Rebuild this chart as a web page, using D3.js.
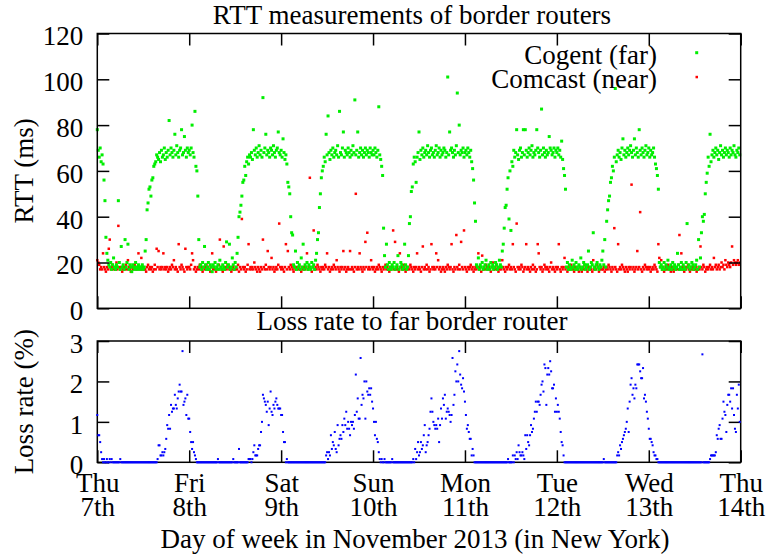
<!DOCTYPE html>
<html>
<head>
<meta charset="utf-8">
<script src="https://cdn.jsdelivr.net/npm/d3@7"></script>
<style>
body { margin: 0; background: #fff; }
svg text { font-family: "Liberation Serif", "Times New Roman", serif; }
</style>
</head>
<body>
<div id="chart"></div>
<script>
// x axis: hours since Thu 7th 00:00, one tick per day
var dayTicks = [0, 24, 48, 72, 96, 120, 144, 168];
var dayNames = ["Thu", "Fri", "Sat", "Sun", "Mon", "Tue", "Wed", "Thu"];
var dayDates = ["7th", "8th", "9th", "10th", "11th", "12th", "13th", "14th"];
var rttTicks = [0, 20, 40, 60, 80, 100, 120];
var lossTicks = [0, 1, 2, 3];
var stepHours = 0.25; // one sample every 15 minutes

// RTT to the far (Cogent) border router, ms
var cogentRtt = [
  78,69,66,70,64,67,63, 56,47,31,24,
  21,19,18,20,17,19,22,18,17,19,18,47,20,17,27,18,19,17,30,18,20,28,17,19,18,16,19,18,17,20,18,17,19,18,17,18,19,17,18,
  25,30,43,46,52,53,49,56,57,62,63,64,67,66,
  65,68,64,69,66,67,70,65,68,66,69,82,67,70,68,66,69,76,67,71,68,66,69,70,78,67,68,75,69,66,70,68,
  69,67,70,80,68,66,86,62,60, 49,30,
  18,19,17,20,18,27,19,17,18,20,17,19,18,16,19,18,20,17,18,19,17,21,18,17,19,18,17,20,29,18,19,28,17,18,22,19,17,20,18,
  24,31,40,42,45,49,55,56,62,58,64,66,63,67,
  66,68,65,78,69,67,70,66,68,71,67,69,66,92,68,70,76,67,69,68,66,70,69,67,71,68,66,69,70,77,68,67,
  69,66,74,68,65,67,63, 55,53,50,40,33,
  32,19,18,25,17,20,18,19,17,22,18,28,17,19,18,20,17,19,18,17,20,18,19,17,21,
  24,30,33,44,50,57,60,62,66,
  64,76,67,84,68,65,69,67,70,66,68,69,67,71,66,86,68,67,70,77,66,69,68,67,70,68,66,69,67,71,68,91,67,69,77,66,68,70,67,69,66,68,70,67,69,68,66,70,68,67,
  69,67,70,68,66,69,88,67,65, 62,58,35,23,
  18,28,19,17,20,18,17,19,18,20,17,18,19,23,17,18,20,19,17,18,28,19,17,18,23,
  37,40,51,53,63,66,64,55,
  66,68,77,65,69,67,70,66,68,69,67,71,68,66,69,70,67,68,66,69,71,67,68,70,66,69,67,68,70,69,66,68,101,67,77,69,70,68,66,69,67,71,94,68,80,67,69,68,70,66,
  68,69,67,70,68,66,69,64, 61,56,46,38,
  19,18,22,17,19,18,20,17,18,19,21,17,18,19,17,20,18,19,17,18,20,19,17,18,21,19,18,
  25,28,35,44,45,52,57,39,60,34,64,62,69,
  66,68,78,67,65,69,70,66,68,78,67,78,69,66,68,70,67,69,71,66,68,67,69,78,70,68,66,69,87,67,70,68,66,69,67,68,75,70,69,67,68,70,66,69,
  68,70,67,69,66,73,65, 61,58,52,
  18,20,17,19,18,17,21,18,19,17,20,18,17,19,18,22,17,18,20,19,17,18,19,25,17,18,20,19,33,18,17,19,20,18,17,19,18,21,25,19,30,18,
  38,43,47,49,55,57,62,60,66,
  96,64,67,69,66,68,65,70,74,67,69,66,68,70,67,69,71,68,66,69,74,67,70,68,66,78,69,67,70,68,66,69,71,67,68,70,66,69,67,68,70,66,63,
  61,58,52,
  20,18,19,17,18,20,17,19,18,21,17,18,19,17,20,18,19,17,18,24,19,17,18,20,17,19,18,17,20,37,18,19,17,18,20,19,17,18,19,21,17,30,18,22,
  33,40,38,41,50,55,59,66,62,76,
  64,67,69,66,68,70,67,69,65,68,71,67,69,66,68,70,67,69,68,66,70,67,69,68,71,67,66,69,68,70,67
];

// RTT to the near (Comcast) border router, ms
var comcastRtt = [
  21,20,19,17,18,17,24,18,17,16,18,17,26,30,17,18,19,17,18,17,20,17,36,18,
  17,18,16,17,18,17,19,17,21,18,17,16,18,17,18,19,17,18,17,24,18,17,22,17,
  18,17,17,16,18,19,17,18,17,18,16,17,19,17,26,18,25,17,18,17,18,24,17,18,
  17,18,16,17,18,17,19,18,21,17,18,17,16,28,18,17,19,18,17,16,26,18,17,18,
  18,17,19,24,21,17,18,16,17,18,17,19,18,17,16,18,17,18,19,17,18,17,16,18,
  24,17,18,17,16,18,17,19,30,18,17,16,27,17,18,17,19,18,17,18,16,17,18,17,
  17,18,17,19,16,18,17,39,18,17,18,16,17,19,28,17,18,17,18,17,20,18,17,16,
  18,17,16,18,17,30,18,17,19,17,25,18,17,18,22,17,18,16,17,18,17,19,37,18,
  17,18,17,16,18,28,17,25,18,17,19,18,17,16,18,17,18,20,17,18,17,16,18,17,
  18,17,18,24,17,18,57,17,16,18,34,17,18,17,19,18,17,16,18,17,18,17,19,18,
  24,17,18,16,17,18,17,19,18,17,21,18,17,16,18,17,18,25,17,18,16,17,18,17,
  25,17,18,17,16,18,50,17,18,17,24,18,17,16,18,17,29,18,33,17,18,17,21,18,
  17,18,16,17,18,17,19,18,17,16,18,17,18,19,17,18,17,16,18,17,18,34,17,29,
  17,18,17,16,24,18,17,18,19,17,16,18,17,18,17,19,18,17,16,18,17,18,24,17,
  18,17,16,18,27,17,18,17,19,17,18,16,17,28,18,17,18,17,24,18,21,17,18,16,
  17,18,17,16,18,17,19,18,17,18,28,17,16,18,17,32,18,17,19,17,29,18,17,34,
  18,17,16,18,17,18,19,17,18,16,17,18,17,18,24,17,18,16,23,17,18,17,19,18,
  17,18,17,16,18,20,17,18,17,19,18,16,17,18,17,21,18,17,16,18,17,18,19,17,
  18,17,28,18,17,16,37,18,17,18,17,19,18,16,17,18,28,17,18,17,16,18,17,19,
  17,18,16,17,28,24,18,17,18,16,17,19,18,17,18,17,16,18,20,17,18,17,16,18,
  17,18,28,17,16,18,17,18,22,17,18,16,17,18,17,19,18,17,16,18,17,18,17,16,
  18,17,16,18,17,19,18,17,16,18,17,18,17,16,21,17,18,17,19,18,16,17,18,17,
  17,18,16,17,18,17,19,18,17,16,18,17,35,18,17,16,28,17,18,17,19,18,17,16,
  18,17,16,18,17,18,54,17,18,16,17,18,25,17,18,42,17,16,18,17,19,18,17,18,
  17,18,16,17,18,17,19,18,17,16,28,22,18,21,17,18,16,17,18,17,19,18,17,16,
  18,17,16,18,17,18,17,19,32,17,24,18,17,16,18,17,18,19,17,16,18,17,18,17,
  17,18,16,17,18,17,27,18,17,19,18,16,17,18,17,18,19,17,18,17,22,18,19,17,
  18,19,17,18,20,18,19,17,21,19,18,20,19,18,20,27,19,21,20,19,20,21,19,20
];

// loss rate to the far border router, %
var lossRate = [
  1.17,.67,.67,.5,.25,.08,0,.08,0,0,.08,0,0,.08,0,.08,0,0,0,0,0,0,0,0,
  .08,0,0,0,0,0,0,0,0,0,0,0,0,0,0,0,0,0,0,0,0,0,0,0,
  0,0,0,0,0,0,0,0,0,0,0,0,0,0,0,.08,.42,.42,.17,.17,.25,.17,.25,.33,
  .58,.92,.83,1.17,.83,1.42,1.25,1.33,1.33,1.67,1.42,1.33,1.58,1.75,1.92,1.75,1.75,2.75,1.42,1.5,1.58,1.17,1.67,1.08,
  1.08,.75,.5,.33,.5,.25,.17,.08,0,0,0,0,0,0,0,0,0,0,0,0,0,0,0,0,
  0,0,0,0,0,0,.08,0,0,0,0,0,0,0,0,0,0,0,0,0,0,0,.08,0,
  0,0,0,0,.33,0,0,0,0,0,0,0,0,0,.08,.08,.08,0,.08,.25,.42,.17,.17,.17,
  .33,.42,.42,.75,1,1.67,1.58,1.5,1.42,1.25,1.5,.92,1.33,1.75,1.25,1.17,1.42,1.33,1.5,1.58,1.42,1.33,1.33,1.33,
  1.17,1.17,.75,.5,.5,0,.08,0,0,0,0,0,0,0,0,0,0,0,0,0,0,0,0,0,
  0,0,0,0,0,0,0,0,0,0,0,0,0,0,0,0,0,0,0,0,0,0,0,.17,
  .25,.08,.25,.17,.67,.33,.5,.42,.75,.33,.25,.92,.42,.58,.67,.58,.92,.75,1.08,.92,1.25,.83,1,.83,
  .67,1,.92,1,.83,1.17,2.17,1.25,1.58,1.08,1.08,2.58,1.42,1.67,1.58,2,1.08,2,1.75,1.67,1.83,1.67,1.83,1.5,
  1.33,1,.67,1,.58,.5,.25,.08,0,.08,0,0,.08,0,0,0,0,0,0,0,.08,0,0,0,
  0,0,0,0,0,0,0,0,0,0,0,0,0,0,0,0,0,0,.08,0,.33,.08,.25,.5,
  .17,.25,.5,.33,.42,.67,.92,.25,.42,.5,.67,.83,1.25,1.58,1.25,1,.92,.83,.92,.83,1.08,.5,.92,1.33,
  1.08,1.58,1.42,1.67,1.08,1.25,1.33,1.25,1.17,1,1.17,2.58,1.42,1.67,2.25,2,2.42,2,2.75,2.17,1.92,1.83,2.08,1.75,
  1.5,1.17,.83,.92,.75,.58,.58,.17,.33,.17,0,0,0,0,0,0,0,0,0,0,0,0,0,0,
  0,0,0,0,0,0,0,0,0,0,0,0,0,0,0,0,0,0,0,0,0,.08,0,0,
  0,0,.17,0,.17,.08,.25,.08,.42,.25,.17,.17,.25,.17,.08,.67,.33,.67,.5,.42,.67,.92,.75,.83,
  1.08,1.25,1.5,1.25,1.5,1.5,1.42,1.67,1.92,2,1.75,2.42,2.33,1.42,2.17,2.33,2.17,2.5,2.25,1.83,1.83,1.92,1.25,1.58,
  1.25,1.42,1.25,1.08,.75,.5,.42,.17,0,0,0,0,0,0,0,0,0,0,0,0,0,0,0,0,
  0,0,0,0,0,0,0,0,0,0,0,0,0,0,0,0,0,0,0,0,0,0,0,0,
  0,.08,0,0,0,0,0,0,0,0,0,0,0,0,0,.17,.25,.17,.42,.33,.5,.58,.67,.75,
  .83,1,1.33,.75,1.5,1.92,2.08,1.67,1.83,1.58,1.92,1.83,2.42,2.42,2.42,2.25,2.08,2.08,2.33,1.58,1.67,1.5,1.25,1.08,
  .83,.58,.58,.5,.42,.25,.17,.17,.08,.08,0,0,0,0,0,0,0,0,0,0,0,0,0,0,
  0,0,0,0,0,0,0,0,0,0,0,0,0,0,0,0,0,0,0,0,0,0,0,0,
  0,0,0,0,0,0,0,0,2.67,0,0,0,0,0,0,0,.08,.17,.17,.17,.17,.17,.25,.67,
  .58,.83,.92,.58,.58,1.08,1.5,1.25,1.17,.75,1.42,1.67,1.67,1.5,1.83,1.33,1.83,1.17,.83,.75,1.67,1.33,1.92,1
];

var svg = d3.select("#chart").append("svg")
    .attr("width", 766)
    .attr("height", 557),
    left = 97.3,
    right = 740.7,
    rttTop = 33.5,
    rttBottom = 308.3,
    lossTop = 341,
    lossBottom = 462.3,
    fontSize = 27,
    tickLen = 12;

var x = d3.scaleLinear().domain([0, 168]).range([left, right]);
var yRtt = d3.scaleLinear().domain([0, 120]).range([rttBottom, rttTop]);
var yLoss = d3.scaleLinear().domain([0, 3]).range([lossBottom, lossTop]);

function styleAxis(g) {
    g.attr("font-family", "Liberation Serif, serif")
        .attr("font-size", fontSize);
    g.select(".domain").remove();
    g.selectAll(".tick line").attr("stroke", "#000").attr("stroke-width", 1.5);
    g.selectAll(".tick text").attr("fill", "#000");
}

function drawFrame(y, ticks, top, bottom) {
    svg.append("rect")
        .attr("x", left)
        .attr("y", top)
        .attr("width", right - left)
        .attr("height", bottom - top)
        .attr("fill", "none")
        .attr("stroke", "#000")
        .attr("stroke-width", 1.5);

    svg.append("g")
        .attr("transform", "translate(0," + top + ")")
        .call(d3.axisTop(x).tickValues(dayTicks).tickSize(-tickLen).tickFormat(""))
        .call(styleAxis);

    svg.append("g")
        .attr("transform", "translate(" + left + ",0)")
        .call(d3.axisLeft(y).tickValues(ticks).tickSize(-tickLen).tickPadding(14).tickFormat(d3.format("d")))
        .call(styleAxis)
        .selectAll(".tick text")
        .attr("dy", "0.42em");

    svg.append("g")
        .attr("transform", "translate(" + right + ",0)")
        .call(d3.axisRight(y).tickValues(ticks).tickSize(-tickLen).tickFormat(""))
        .call(styleAxis);
}

// ---- top panel: RTT ----
var redPts = svg.append("g");
redPts.selectAll("rect")
    .data(comcastRtt)
    .enter().append("rect")
    .attr("x", function(d, i) { return x(i * stepHours) - 1.25; })
    .attr("y", function(d) { return yRtt(d) - 1.25; })
    .attr("width", 2.5)
    .attr("height", 2.5)
    .attr("fill", "#ff0000");

var greenPts = svg.append("g");
greenPts.selectAll("rect")
    .data(cogentRtt)
    .enter().append("rect")
    .attr("x", function(d, i) { return x(i * stepHours) - 1.5; })
    .attr("y", function(d) { return yRtt(d) - 1.5; })
    .attr("width", 3)
    .attr("height", 3)
    .attr("fill", "#00ee00");

drawFrame(yRtt, rttTicks, rttTop, rttBottom);

svg.append("g")
    .attr("transform", "translate(0," + rttBottom + ")")
    .call(d3.axisBottom(x).tickValues(dayTicks).tickSize(-tickLen).tickFormat(""))
    .call(styleAxis);

// legend
var legend = svg.append("g")
    .attr("font-size", fontSize)
    .attr("text-anchor", "end");
legend.append("text").attr("x", 657).attr("y", 63.5).text("Cogent (far)");
legend.append("text").attr("x", 657).attr("y", 87.5).text("Comcast (near)");
legend.append("rect").attr("x", 695.2).attr("y", 51.2).attr("width", 3).attr("height", 3).attr("fill", "#00ee00");
legend.append("rect").attr("x", 695.5).attr("y", 75.8).attr("width", 2.5).attr("height", 2.5).attr("fill", "#ff0000");

// ---- bottom panel: loss rate ----
drawFrame(yLoss, lossTicks, lossTop, lossBottom);

var xAxis = svg.append("g")
    .attr("transform", "translate(0," + lossBottom + ")")
    .call(d3.axisBottom(x).tickValues(dayTicks).tickSize(-tickLen).tickPadding(11))
    .call(styleAxis);

xAxis.selectAll(".tick text")
    .text(null)
    .each(function(d, i) {
        var t = d3.select(this);
        t.append("tspan").attr("x", 0).text(dayNames[i]);
        t.append("tspan").attr("x", 0).attr("dy", 24).text(dayDates[i]);
    });

svg.append("g").selectAll("rect")
    .data(lossRate)
    .enter().append("rect")
    .attr("x", function(d, i) { return x(i * stepHours) - 1; })
    .attr("y", function(d) { return yLoss(d) - 1; })
    .attr("width", 2)
    .attr("height", 2)
    .attr("fill", "#0000ff");

// titles and axis labels
svg.append("text")
    .attr("x", 412)
    .attr("y", 23.5)
    .attr("text-anchor", "middle")
    .attr("font-size", fontSize)
    .text("RTT measurements of border routers");

svg.append("text")
    .attr("x", 412)
    .attr("y", 330)
    .attr("text-anchor", "middle")
    .attr("font-size", fontSize)
    .text("Loss rate to far border router");

svg.append("text")
    .attr("x", 415)
    .attr("y", 548)
    .attr("text-anchor", "middle")
    .attr("font-size", fontSize)
    .text("Day of week in November 2013 (in New York)");

svg.append("text")
    .attr("transform", "translate(33," + (rttTop + rttBottom) / 2 + ") rotate(-90)")
    .attr("text-anchor", "middle")
    .attr("font-size", fontSize)
    .text("RTT (ms)");

svg.append("text")
    .attr("transform", "translate(33," + (lossTop + lossBottom) / 2 + ") rotate(-90)")
    .attr("text-anchor", "middle")
    .attr("font-size", fontSize)
    .text("Loss rate (%)");
</script>
</body>
</html>
